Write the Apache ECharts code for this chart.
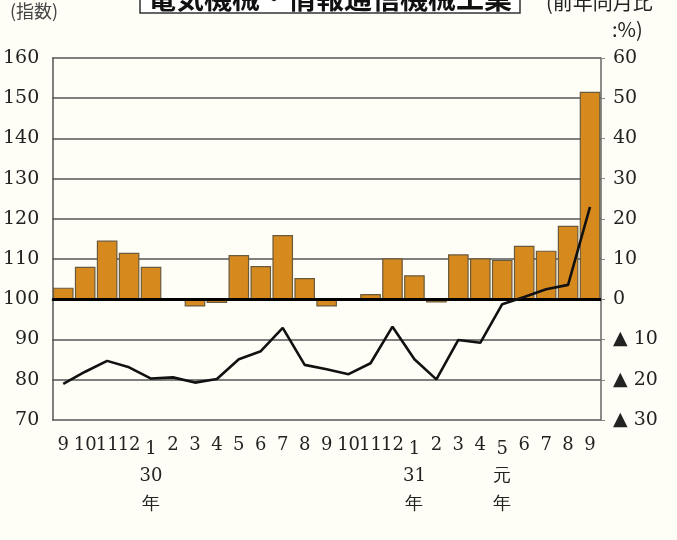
<!DOCTYPE html>
<html>
<head>
<meta charset="utf-8">
<script src="https://cdn.jsdelivr.net/npm/echarts@6/dist/echarts.min.js"></script>
<style>
html,body{margin:0;padding:0;background:#FEFEF6;}
#c{width:677px;height:540px;}
</style>
</head>
<body>
<div id="c"></div>
<script>
const categories = ['9','10','11','12','1','2','3','4','5','6','7','8','9','10','11','12','1','2','3','4','5','6','7','8','9'];
const yearLabels = ['','','','','30\n年','','','','','','','','','','','','31\n年','','','','元\n年','','','',''];
const yoyPercent = [2.9, 8.1, 14.6, 11.6, 8.1, 0.2, -1.8, -0.9, 11.0, 8.3, 16.0, 5.3, -1.8, 0.3, 1.3, 10.2, 6.0, -0.8, 11.2, 10.2, 9.8, 13.3, 12.1, 18.3, 51.6];
const indexValues = [79.0, 82.0, 84.7, 83.1, 80.3, 80.6, 79.3, 80.2, 85.1, 87.1, 92.9, 83.7, 82.6, 81.4, 84.1, 93.2, 85.1, 80.1, 89.9, 89.2, 98.8, 100.6, 102.5, 103.6, 123.0];
const titleText = '電気機械・情報通信機械工業';

const serif = 'DejaVu Serif';
const cjk = 'Noto Sans CJK JP';
const chart = echarts.init(document.getElementById('c'));
chart.setOption({
  backgroundColor: '#FEFEF6',
  animation: false,
  grid: {left: 51, right: 76, top: 58, bottom: 120},
  graphic: [
    {type: 'rect', shape: {x: 140, y: -30, width: 380, height: 43}, style: {fill: '#FFFFFF', stroke: '#333', lineWidth: 1.5}},
    {type: 'text', x: 330, y: 12, style: {text: titleText, font: 'bold 28px "' + cjk + '"', fill: '#111', align: 'center', verticalAlign: 'bottom'}},
    {type: 'text', x: 10, y: 2, style: {text: '(指数)', font: '18px "' + cjk + '"', fill: '#444', align: 'left', verticalAlign: 'top'}},
    {type: 'text', x: 546, y: 12, style: {text: '(前年同月比', font: '20px "' + cjk + '"', fill: '#222', align: 'left', verticalAlign: 'bottom'}},
    {type: 'text', x: 612, y: 19, style: {text: ':%)', font: '20px "' + cjk + '"', fill: '#222', align: 'left', verticalAlign: 'top'}}
  ],
  xAxis: {
    type: 'category',
    data: categories,
    axisLine: {lineStyle: {color: '#555', width: 1.5}},
    axisTick: {show: false},
    axisLabel: {
      interval: 0,
      margin: 16,
      formatter: function (v, i) {
        if (yearLabels[i]) {
          const parts = yearLabels[i].split('\n');
          return '{lo|' + v + '}\n{y|' + parts[0] + '}\n{y|' + parts[1] + '}';
        }
        return '{n|' + v + '}';
      },
      rich: {
        n: {fontFamily: serif, fontSize: 18, lineHeight: 18, color: '#222'},
        lo: {fontFamily: serif, fontSize: 18, lineHeight: 26, color: '#222'},
        y: {fontFamily: serif, fontSize: 18, lineHeight: 28, color: '#222'}
      }
    }
  },
  yAxis: [
    {
      type: 'value', min: 70, max: 160, interval: 10,
      axisLine: {show: true, lineStyle: {color: '#555', width: 1.5}},
      axisTick: {show: false},
      axisLabel: {fontFamily: serif, fontSize: 19, color: '#222', margin: 13},
      splitLine: {lineStyle: {color: '#555', width: 1.5}}
    },
    {
      type: 'value', min: -30, max: 60, interval: 10,
      axisLine: {show: true, lineStyle: {color: '#666', width: 1.5}},
      axisTick: {show: true, length: 4, lineStyle: {color: '#888'}},
      axisLabel: {fontFamily: serif, fontSize: 19, color: '#222', margin: 12,
        formatter: function (v) { return v < 0 ? '▲ ' + (-v) : String(v); }},
      splitLine: {show: false}
    }
  ],
  series: [
    {
      type: 'bar', yAxisIndex: 1, data: yoyPercent,
      barCategoryGap: '6%',
      itemStyle: {color: '#D68A1E', borderColor: '#6A5A3C', borderWidth: 1.2},
      markLine: {
        silent: true, symbol: 'none', label: {show: false},
        lineStyle: {color: '#000', width: 3, type: 'solid'},
        data: [{yAxis: 0}]
      },
      z: 2
    },
    {
      type: 'line', yAxisIndex: 0, data: indexValues,
      showSymbol: false, symbol: 'none',
      lineStyle: {color: '#111', width: 2.6},
      z: 5
    }
  ]
});
</script>
</body>
</html>
